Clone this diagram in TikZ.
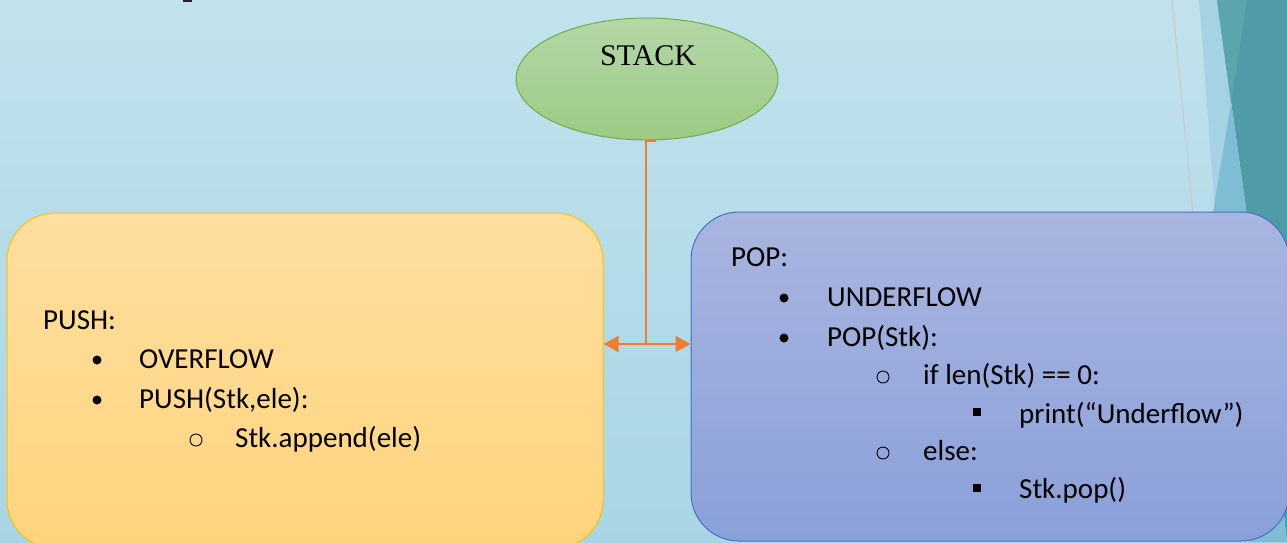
\documentclass[tikz,border=0pt]{standalone}
\usepackage{fontspec}
\setmainfont{Carlito}
\newfontfamily\stackserif{Liberation Serif}
\usetikzlibrary{shapes.geometric,arrows.meta}
\definecolor{bgtop}{RGB}{193,226,237}
\definecolor{bgbot}{RGB}{168,213,229}
\definecolor{stripA}{RGB}{166,211,227}
\definecolor{tealdark}{RGB}{79,156,168}
\definecolor{teallight}{RGB}{91,165,174}
\definecolor{midblue}{RGB}{126,189,212}
\definecolor{greyline}{RGB}{200,200,200}
\definecolor{pushtop}{RGB}{255,223,159}
\definecolor{pushbot}{RGB}{255,212,125}
\definecolor{pushedge}{RGB}{255,192,0}
\definecolor{poptop}{RGB}{169,181,224}
\definecolor{popbot}{RGB}{138,160,217}
\definecolor{popedge}{RGB}{68,114,196}
\definecolor{elltop}{RGB}{180,215,166}
\definecolor{ellbot}{RGB}{156,203,133}
\definecolor{elledge}{RGB}{112,173,71}
\definecolor{conn}{RGB}{237,125,49}
\begin{document}
\begin{tikzpicture}[x=1pt,y=-1pt,
  bodytext/.style={anchor=base west, inner sep=0pt, font=\fontsize{29}{35}\selectfont},
  dotbullet/.style={circle, fill=black, inner sep=0pt, minimum size=9pt},
  ringbullet/.style={circle, draw=black, line width=0.9pt, inner sep=0pt, minimum size=12pt},
  sqbullet/.style={rectangle, fill=black, inner sep=0pt, minimum size=8pt},
  panel/.style={rectangle, rounded corners=48pt, inner sep=0pt, line width=1pt},
  connector/.style={draw=conn, line width=2pt},
  conarrow/.style={connector, -{Triangle[length=15pt,width=16pt]}}]
\useasboundingbox (0,0) rectangle (1287,542);
\clip (0,0) rectangle (1287,542);
% background
\shade[top color=bgtop, bottom color=bgbot] (0,0) rectangle (1287,542);
% facet decoration on the right
\fill[stripA] (1199,0) -- (1217,0) -- (1263,330) -- (1287,542) -- (1240,542) -- cycle;
\fill[tealdark] (1217,0) -- (1287,0) -- (1287,542) -- (1263,330) -- cycle;
\fill[teallight] (1217,0) -- (1247,0) -- (1231,103) -- cycle;
\fill[midblue] (1231,103) -- (1263,330) -- (1287,542) -- (1250,542) -- (1213,212) -- cycle;
\draw[greyline, line width=1pt] (1172,0) -- (1193,214);
% small mark at top left
\fill[black!85] (183,0) rectangle (192,1.5);
% ellipse
\node[ellipse, draw=elledge, line width=1pt, top color=elltop, bottom color=ellbot,
      minimum width=262pt, minimum height=122pt, inner sep=0pt] (stack) at (647,79) {};
\node[anchor=base, inner sep=0pt, font=\stackserif\fontsize{30}{36}\selectfont] (stacklbl) at (648,65) {STACK};
% panels
\node[panel, draw=pushedge, top color=pushtop, bottom color=pushbot,
      minimum width=596pt, minimum height=335pt] (push) at (305,380.5) {};
\node[panel, draw=popedge, top color=poptop, bottom color=popbot,
      minimum width=598pt, minimum height=329pt] (pop) at (990,376.5) {};
% connectors
\coordinate (j) at (646,344);
\draw[connector] ([xshift=9pt]stack.south) -| (j);
\draw[conarrow] (j) -- (j -| push.east);
\draw[conarrow] (j) -- (j -| pop.west);
% PUSH text
\node[bodytext] (t1) at (43,329) {PUSH:};
\node[dotbullet] (b1) at (97,360) {};
\node[bodytext] (t2) at (139,368) {OVERFLOW};
\node[dotbullet] (b2) at (97,400) {};
\node[bodytext] (t3) at (139,408) {PUSH(Stk,ele):};
\node[ringbullet] (b3) at (196,440) {};
\node[bodytext] (t4) at (235,447) {Stk.append(ele)};
% POP text
\node[bodytext] (p1) at (731,266) {POP:};
\node[dotbullet] (c1) at (784,298) {};
\node[bodytext] (p2) at (827,306) {UNDERFLOW};
\node[dotbullet] (c2) at (784,338) {};
\node[bodytext] (p3) at (827,346) {POP(Stk):};
\node[ringbullet] (c3) at (883,377) {};
\node[bodytext] (p4) at (923,384) {if len(Stk) == 0:};
\node[sqbullet] (c4) at (977,412) {};
\node[bodytext] (p5) at (1019,423) {print(“Underflow”)};
\node[ringbullet] (c5) at (883,453) {};
\node[bodytext] (p6) at (923,460) {else:};
\node[sqbullet] (c6) at (977,488) {};
\node[bodytext] (p7) at (1019,498) {Stk.pop()};
\end{tikzpicture}
\end{document}
